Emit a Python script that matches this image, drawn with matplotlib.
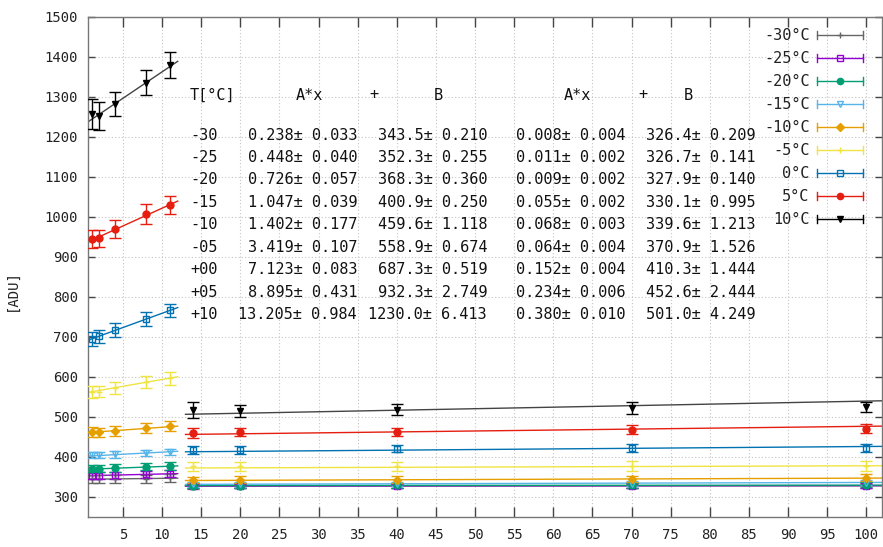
import numpy as np
import matplotlib
matplotlib.use("Agg")
import matplotlib.pyplot as plt
from matplotlib.lines import Line2D
from matplotlib.legend_handler import HandlerBase

# ---------------- data ----------------
temps = ['-30°C', '-25°C', '-20°C', '-15°C', '-10°C', '-5°C', '0°C', '5°C', '10°C']
row_labels = ['-30', '-25', '-20', '-15', '-10', '-05', '+00', '+05', '+10']
colors = ['#666666', '#9400d3', '#009e73', '#56b4e9', '#e69f00', '#f0e442', '#0072b2', '#e51e10', '#000000']
markers = ['+', 's', 'o', 'v', 'D', '+', 's', 'o', 'v']
filled = [True, False, True, False, True, True, False, True, True]

x_short = [1, 2, 4, 8, 11]
x_long = [14, 20, 40, 70, 100]

short_vals = [
    [344, 344, 345, 345, 346],
    [353, 353, 354, 356, 358],
    [370, 370, 372, 375, 377],
    [404, 404, 406, 409, 412],
    [462, 461, 465, 472, 477],
    [562, 563, 573, 586, 596],
    [694, 701, 717, 744, 766],
    [945, 946, 970, 1006, 1029],
    [1257, 1252, 1282, 1335, 1380],
]
short_errs = [
    [10, 10, 10, 10, 10],
    [9, 9, 9, 9, 9],
    [9, 9, 9, 9, 9],
    [8, 8, 8, 8, 8],
    [12, 12, 12, 12, 12],
    [14, 14, 15, 15, 16],
    [17, 17, 17, 17, 17],
    [22, 22, 22, 25, 22],
    [38, 35, 29, 31, 33],
]
long_vals = [
    [326, 327, 327, 327, 327],
    [327, 327, 327, 328, 328],
    [328, 328, 329, 329, 330],
    [331, 331, 332, 333, 335],
    [342, 343, 343, 345, 348],
    [376, 376, 376, 377, 377],
    [417, 417, 420, 421, 423],
    [460, 462, 462, 468, 470],
    [517, 515, 518, 522, 524],
]
long_errs = [
    [6, 6, 6, 6, 6],
    [6, 6, 6, 6, 6],
    [6, 6, 6, 6, 6],
    [6, 6, 6, 6, 6],
    [8, 8, 8, 8, 8],
    [12, 12, 12, 12, 12],
    [9, 9, 9, 10, 10],
    [12, 11, 11, 11, 11],
    [19, 15, 13, 14, 12],
]

# fit table: A*x + B
A_short = [0.238, 0.448, 0.726, 1.047, 1.402, 3.419, 7.123, 8.895, 13.205]
A_short_err = [0.033, 0.040, 0.057, 0.039, 0.177, 0.107, 0.083, 0.431, 0.984]
B_short = [343.5, 352.3, 368.3, 400.9, 459.6, 558.9, 687.3, 932.3, 1230.0]
B_short_err = [0.210, 0.255, 0.360, 0.250, 1.118, 0.674, 0.519, 2.749, 6.413]
A_long = [0.008, 0.011, 0.009, 0.055, 0.068, 0.064, 0.152, 0.234, 0.380]
A_long_err = [0.004, 0.002, 0.002, 0.002, 0.003, 0.004, 0.004, 0.006, 0.010]
B_long = [326.4, 326.7, 327.9, 330.1, 339.6, 370.9, 410.3, 452.6, 501.0]
B_long_err = [0.209, 0.141, 0.140, 0.995, 1.213, 1.526, 1.444, 2.444, 4.249]

# ---------------- figure ----------------
W, H = 883, 547
fig = plt.figure(figsize=(W / 100, H / 100), dpi=100)
ax_l, ax_r, ax_t, ax_b = 87.7, 882.0, 16.7, 516.7
ax = fig.add_axes([ax_l / W, (H - ax_b) / H, (ax_r - ax_l) / W, (ax_b - ax_t) / H])

MONO = 'DejaVu Sans Mono'
XMIN, XMAX = 0.5, 102
ax.set_xlim(XMIN, XMAX)
ax.set_ylim(250, 1500)

fit_colors = list(colors)
fit_colors[-1] = '#444444'

for i in range(len(temps)):
    c = colors[i]
    mfc = c if filled[i] else 'none'
    ms = 5 if markers[i] not in ('D',) else 4
    if markers[i] == '+':
        ms = 4
    for xs, ys, es in ((x_short, short_vals[i], short_errs[i]), (x_long, long_vals[i], long_errs[i])):
        ax.errorbar(xs, ys, yerr=es, fmt=markers[i], color=c, mfc=mfc, mec=c, ms=ms,
                    capsize=4, elinewidth=1, capthick=1, mew=1, zorder=3)
    xf = np.array([XMIN, 12.0])
    ax.plot(xf, A_short[i] * xf + B_short[i], color=fit_colors[i], lw=1, zorder=2)
    xf = np.array([13.0, XMAX])
    ax.plot(xf, A_long[i] * xf + B_long[i], color=fit_colors[i], lw=1, zorder=2)

ax.set_xticks(np.arange(5, 101, 5))
ax.set_yticks(np.arange(300, 1501, 100))
ax.grid(True, linestyle=(0, (1, 2)), color='#c4c4c4', lw=0.8)
ax.set_axisbelow(True)
ax.tick_params(axis='both', direction='in', top=True, right=True, color='#444444',
               labelsize=10, labelcolor='#222222', width=1)
ax.tick_params(axis='x', length=7, pad=8)
ax.tick_params(axis='y', length=5, pad=7)
for lab in ax.get_xticklabels() + ax.get_yticklabels():
    lab.set_family(MONO)
for sp in ax.spines.values():
    sp.set_color('#777777')
    sp.set_linewidth(1)

fig.text(12 / W, 1 - 290 / H, '[ADU]', rotation=90, ha='center', va='center',
         family=MONO, fontsize=10, color='#222222')

# ---------------- table ----------------
def fx(px):
    return (px - ax_l) / (ax_r - ax_l)

def fy(py):
    return (ax_b - py) / (ax_b - ax_t)

TFS = 11
tkw = dict(transform=ax.transAxes, family=MONO, fontsize=TFS, color='#111111', va='center')
hy = fy(95)
ax.text(fx(190), hy, 'T[°C]', ha='left', **tkw)
for px, s in ((309, 'A*x'), (374, '+'), (438, 'B'), (577, 'A*x'), (643, '+'), (688, 'B')):
    ax.text(fx(px), hy, s, ha='center', **tkw)

for k in range(len(row_labels)):
    yy = fy(135 + 22.45 * k)
    ax.text(fx(190), yy, row_labels[k], ha='left', **tkw)
    ax.text(fx(357), yy, f'{A_short[k]:.3f}± {A_short_err[k]:.3f}', ha='right', **tkw)
    ax.text(fx(487), yy, f'{B_short[k]:.1f}± {B_short_err[k]:.3f}', ha='right', **tkw)
    ax.text(fx(625), yy, f'{A_long[k]:.3f}± {A_long_err[k]:.3f}', ha='right', **tkw)
    ax.text(fx(755), yy, f'{B_long[k]:.1f}± {B_long_err[k]:.3f}', ha='right', **tkw)

# ---------------- legend ----------------
class HandlerHErr(HandlerBase):
    def create_artists(self, legend, orig_handle, xdescent, ydescent, width, height, fontsize, trans):
        c = orig_handle.get_color()
        y = height / 2 - ydescent
        x0, x1 = -xdescent, width - xdescent
        cap = 3.0
        arts = [
            Line2D([x0, x1], [y, y], color=c, lw=1),
            Line2D([x0, x0], [y - cap, y + cap], color=c, lw=1),
            Line2D([x1, x1], [y - cap, y + cap], color=c, lw=1),
            Line2D([(x0 + x1) / 2], [y], marker=orig_handle.get_marker(), color=c,
                   mfc=orig_handle.get_markerfacecolor(), mec=c, ms=orig_handle.get_markersize(), lw=0),
        ]
        for a in arts:
            a.set_transform(trans)
        return arts

handles = []
for i in range(len(temps)):
    m = markers[i]
    ms = 4 if m in ('+', 'D') else 4.5
    handles.append(Line2D([], [], color=colors[i], marker=m,
                          mfc=(colors[i] if filled[i] else 'none'), ms=ms))

leg = ax.legend(handles, temps, handler_map={Line2D: HandlerHErr()}, loc='upper right',
                bbox_to_anchor=(fx(863), fy(28.5)), borderpad=0, borderaxespad=0,
                frameon=False, markerfirst=False, handlelength=3.0, handletextpad=0.5,
                labelspacing=0.52, prop={'family': MONO, 'size': 11})
for t in leg.get_texts():
    t.set_ha('right')
    t.set_color('#222222')

fig.savefig('out.png', dpi=100)
